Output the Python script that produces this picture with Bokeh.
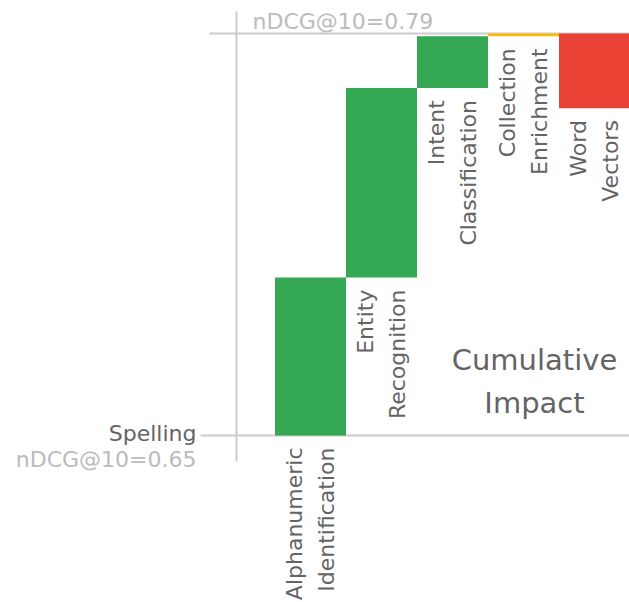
import math
from bokeh.plotting import figure
from bokeh.models import Range1d, ColumnDataSource
from bokeh.core.properties import value
from bokeh.embed import file_html
from bokeh.resources import INLINE

# Step-by-step gains over the spelling baseline
categories = ["Alphanumeric\nIdentification", "Entity\nRecognition",
              "Intent\nClassification", "Collection\nEnrichment", "Word\nVectors"]
deltas = [0.055, 0.066, 0.018, 0.001, -0.026]
baseline_name = "Spelling"
baseline_score = 0.65
target_score = 0.79
score_fmt = "nDCG@10={:.2f}"

W, H = 629, 602
FONT = value("DejaVu Sans")
GREEN, YELLOW, RED = "#34A853", "#FBBC05", "#EA4335"
GRID = "#cccccc"
DARK = "#646464"
LIGHT = "#bbbbbb"
LABEL_SIZE = "22px"

# layout: pixel anchors used to build the ranges
PX_PER_CAT = 71
X0_PX = 310            # centre of first bar
Y_BASE_PX, Y_TOP_PX = 435, 33
ppu = (Y_BASE_PX - Y_TOP_PX) / (target_score - baseline_score)


def xd(px):
    return (px - X0_PX) / PX_PER_CAT


def yd(py):
    return baseline_score + (Y_BASE_PX - py) / ppu


x_range = Range1d(xd(0), xd(W))
y_range = Range1d(yd(H), yd(0))

p = figure(width=W, height=H, x_range=x_range, y_range=y_range,
           output_backend="svg", toolbar_location=None, min_border=0,
           x_axis_location=None, y_axis_location=None)
p.grid.visible = False
p.outline_line_color = None
p.background_fill_color = "white"

# waterfall geometry
starts, ends = [], []
running = baseline_score
for d in deltas:
    starts.append(running)
    running += d
    ends.append(running)

colors = [GREEN if d > 0.005 else (RED if d < -0.005 else YELLOW) for d in deltas]
idx = list(range(len(categories)))
src = ColumnDataSource(dict(
    left=[i - 0.5 for i in idx], right=[i + 0.5 for i in idx],
    bottom=[min(s, e) for s, e in zip(starts, ends)],
    top=[max(s, e) for s, e in zip(starts, ends)],
    color=colors, x=idx, label=categories,
    label_y=[min(s, e) - 12 / ppu for s, e in zip(starts, ends)],
))

# reference lines
p.segment(x0=[xd(236)], y0=[yd(11)], x1=[xd(236)], y1=[yd(461)],
          line_color=GRID, line_width=2)
p.segment(x0=[xd(200)], y0=[baseline_score], x1=[xd(W)], y1=[baseline_score],
          line_color=GRID, line_width=2)
p.segment(x0=[xd(209)], y0=[target_score], x1=[xd(W)], y1=[target_score],
          line_color=GRID, line_width=2)

p.quad(left="left", right="right", bottom="bottom", top="top",
       fill_color="color", line_color=None, source=src)

p.text(x="x", y="label_y", text="label", source=src, angle=math.pi / 2,
       text_align="right", text_baseline="middle", text_font=FONT,
       text_font_size=LABEL_SIZE, text_color=DARK, text_line_height=1.3)

# baseline / target annotations
p.text(x=[xd(196)], y=[yd(433)], text=[baseline_name], text_align="right",
       text_baseline="middle", text_font=FONT, text_font_size=LABEL_SIZE,
       text_color=DARK)
p.text(x=[xd(196)], y=[yd(459)], text=[score_fmt.format(baseline_score)],
       text_align="right", text_baseline="middle", text_font=FONT,
       text_font_size=LABEL_SIZE, text_color=LIGHT)
p.text(x=[xd(252)], y=[yd(21)], text=[score_fmt.format(target_score)],
       text_align="left", text_baseline="middle", text_font=FONT,
       text_font_size=LABEL_SIZE, text_color=LIGHT)

p.text(x=[xd(534)], y=[yd(381)], text=["Cumulative\nImpact"],
       text_align="center", text_baseline="middle", text_font=FONT,
       text_font_size="29px", text_color=DARK, text_line_height=1.25)

open("out.html", "w").write(file_html(p, INLINE))
